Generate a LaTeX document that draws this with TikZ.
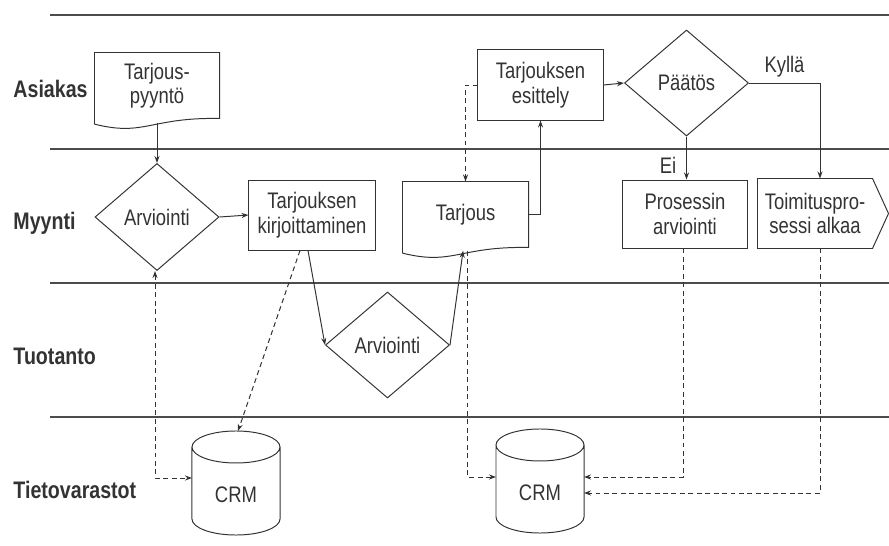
\documentclass[tikz,border=0pt]{standalone}
\usepackage{fontspec}
\setmainfont{Liberation Sans}[FakeStretch=0.82]
\usetikzlibrary{shapes.geometric,calc,arrows.meta}

% outlines drawn round plain nodes
\newcommand\docoutline[1]{%
  \draw ([yshift=-4pt]#1.south west) -- (#1.north west) -- (#1.north east) -- (#1.south east)
    .. controls ($(#1.south west)!0.45!(#1.south east)+(0pt,1pt)$) and ($(#1.south west)!0.4!(#1.south east)+(0pt,-13pt)$)
    .. ([yshift=-4pt]#1.south west);}
\newcommand\drumoutline[1]{%
  \draw ([shift={(-1.1cm,1.2cm)}]#1.center) -- ([shift={(-1.1cm,-0.6cm)}]#1.center)
    arc[start angle=180,end angle=360,x radius=1.1cm,y radius=0.4cm]
    -- ([shift={(1.1cm,1.2cm)}]#1.center)
    arc[start angle=0,end angle=360,x radius=1.1cm,y radius=0.4cm];}
\newcommand\tagoutline[1]{%
  \draw (#1.north west) -- (#1.north east) -- ([xshift=0.4cm]#1.east) -- (#1.south east) -- (#1.south west) -- cycle;}

\begin{document}
\begin{tikzpicture}[x=0.025cm,y=-0.025cm,>={Stealth[length=5pt,width=3.6pt]},
    line width=0.7pt,color=black!80,font=\fontsize{16}{17.5}\selectfont]
      \tikzstyle{every node}=[inner sep=0pt,align=center];
      \tikzstyle{lane}=[draw,line width=0.9pt,black!70];
      \tikzstyle{lanename}=[anchor=base west,font=\fontsize{17}{19}\selectfont\bfseries];
      \tikzstyle{box}=[draw,rectangle,minimum width=3.125cm,minimum height=1.75cm];
      \tikzstyle{choice}=[draw,diamond,minimum width=3.1cm,minimum height=2.65cm];
      \tikzstyle{blank}=[rectangle,minimum width=3.1cm,minimum height=1.625cm];
      \tikzstyle{link}=[dash pattern=on 3.5pt off 2.5pt];
      \useasboundingbox (0,0) rectangle (889,546);

      % swimlanes
      \foreach \y in {15,149,283,417} \path[lane] (50,\y) -- (889,\y);
      \path (13,97)  node[lanename] (asiakas) {Asiakas};
      \path (13,229) node[lanename] (myynti) {Myynti};
      \path (13,364) node[lanename] (tuotanto) {Tuotanto};
      \path (13,498) node[lanename] (varastot) {Tietovarastot};

      % steps
      \path (157,85.5) node[blank] (pyynto) {Tarjous-\\pyyntö};
      \docoutline{pyynto}
      \path (157,217) node[choice,minimum height=2.675cm] (arv1) {Arviointi};
      \path (312,215) node[box,minimum width=3.15cm] (kirj) {Tarjouksen\\kirjoittaminen};
      \path (387.5,345) node[choice] (arv2) {Arviointi};
      \path (465.5,214.5) node[blank,minimum width=3.125cm] (tarjous) {Tarjous};
      \docoutline{tarjous}
      \path (540.5,85) node[box] (esit) {Tarjouksen\\esittely};
      \path (686.5,83) node[choice] (paatos) {Päätös};
      \path (685,214) node[box,minimum width=3.1cm,minimum height=1.7cm] (pros) {Prosessin\\arviointi};
      \path (815,213.5) node[blank,minimum width=2.85cm,minimum height=1.725cm] (toim) {Toimituspro-\\sessi alkaa};
      \tagoutline{toim}
      \path (236,495) node (crmA) {CRM};
      \drumoutline{crmA}
      \path (540,493) node (crmB) {CRM};
      \drumoutline{crmB}

      % flow
      \path[->,draw] ([yshift=-3pt]pyynto.south) -- (arv1.north);
      \path[->,draw] (arv1.east) -- (kirj.west);
      \path[->,draw] ([xshift=-0.1cm]kirj.south) -- (arv2.west);
      \path[->,draw] (arv2.east) -- ([shift={(-0.06cm,-0.08cm)}]tarjous.south);
      \path[->,draw] (tarjous.east) -| (esit.south);
      \path[->,draw] (esit.east) -- (paatos.west);
      \path[->,draw] (paatos.south) -- (paatos.south |- pros.north) node[pos=0.68,left=7pt] (ei) {Ei};
      \path[->,draw] (paatos.east) -| ([xshift=0.125cm]toim.north) node[pos=0.25,above=4pt] (kylla) {Kyllä};

      % data
      \path[->,draw,link] (esit.west) -| (tarjous.north);
      \path[<->,draw,link] ([xshift=-0.05cm]arv1.south) |- ([shift={(-1.1cm,0.425cm)}]crmA.center);
      \path[->,draw,link] ([xshift=-0.3cm]kirj.south) -- ([shift={(0.05cm,1.6cm)}]crmA.center);
      \path[->,draw,link] ([shift={(0.06cm,-0.08cm)}]tarjous.south) |- ([shift={(-1.1cm,0.4cm)}]crmB.center);
      \path[->,draw,link] ([xshift=-0.05cm]pros.south) |- ([shift={(1.1cm,0.4cm)}]crmB.center);
      \path[->,draw,link] ([xshift=0.125cm]toim.south) |- ([xshift=1.1cm]crmB.center);
\end{tikzpicture}
\end{document}
